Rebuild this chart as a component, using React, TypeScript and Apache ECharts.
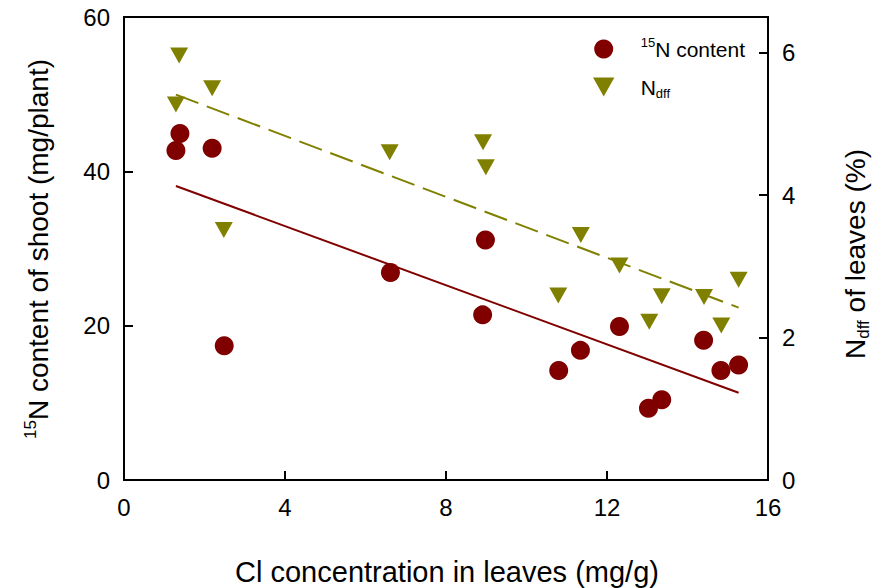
import React, { useEffect, useRef } from "react";
import * as echarts from "echarts";

// Cl concentration in leaves (mg/g) for 15N content points
const clForN15 = [1.29, 1.39, 2.19, 2.49, 6.62, 8.98, 8.91, 10.8, 11.34, 12.31, 13.03, 13.36, 14.4, 14.83, 15.27];
// 15N content of shoot (mg/plant)
const n15Content = [42.7, 44.9, 43.0, 17.4, 26.9, 31.1, 21.4, 14.2, 16.8, 19.9, 9.3, 10.4, 18.1, 14.2, 14.9];
// Cl concentration in leaves (mg/g) for Ndff points
const clForNdff = [1.37, 2.19, 1.29, 6.6, 8.92, 8.99, 2.48, 11.35, 12.31, 10.79, 13.36, 13.05, 14.41, 14.84, 15.27];
// Ndff of leaves (%)
const ndffValues = [5.96, 5.5, 5.27, 4.6, 4.74, 4.39, 3.51, 3.44, 3.01, 2.59, 2.58, 2.22, 2.57, 2.17, 2.81];
// Regression lines (end points)
const fitX = [1.29, 15.27];
const fitN15 = [38.1, 11.3];
const fitNdff = [5.41, 2.42];

const seriesNames = ["15N content", "Ndff"];

const FONT = "'Liberation Sans', Arial, Helvetica, sans-serif";
const RED = "#800000";
const OLIVE = "#808000";
const TRI = "path://M0,0L18,0L9,16Z";

export default function App() {
  const ref = useRef<HTMLDivElement>(null);
  useEffect(() => {
    document.body.style.margin = "0";
    if (!ref.current) return;
    const chart = echarts.init(ref.current, null, { renderer: "svg" });
    const axisLineStyle = { lineStyle: { color: "#000", width: 2 } };
    const tick = { show: true, inside: true, length: 9, lineStyle: { color: "#000", width: 2 } };
    const labelStyle = { color: "#000", fontSize: 24, fontFamily: FONT };
    chart.setOption({
      animation: false,
      grid: {
        left: 124,
        top: 17,
        right: 114,
        bottom: 108,
        show: true,
        borderColor: "#000",
        borderWidth: 2,
        containLabel: false,
      },
      xAxis: {
        type: "value",
        min: 0,
        max: 16,
        interval: 4,
        axisLine: axisLineStyle,
        axisTick: tick,
        axisLabel: { ...labelStyle, margin: 15 },
        splitLine: { show: false },
      },
      yAxis: [
        {
          type: "value",
          min: 0,
          max: 60,
          interval: 20,
          position: "left",
          axisLine: { show: true, ...axisLineStyle },
          axisTick: tick,
          axisLabel: { ...labelStyle, margin: 14 },
          splitLine: { show: false },
        },
        {
          type: "value",
          min: 0,
          max: 6.5,
          interval: 2,
          position: "right",
          axisLine: { show: true, ...axisLineStyle },
          axisTick: tick,
          axisLabel: { ...labelStyle, margin: 14, showMaxLabel: false },
          splitLine: { show: false },
        },
      ],
      legend: {
        data: [
          { name: seriesNames[0], icon: "circle" },
          { name: seriesNames[1], icon: TRI },
        ],
        orient: "vertical",
        left: 593,
        top: 36,
        itemWidth: 64,
        itemHeight: 19,
        itemGap: 17,
        padding: 0,
        selectedMode: false,
        formatter: (n: string) => (n === seriesNames[0] ? "{sup|15}{m|N content}" : "{m|N}{sub|dff}"),
        textStyle: {
          color: "#000",
          fontFamily: FONT,
          fontSize: 21,
          rich: {
            m: { fontSize: 21, fontFamily: FONT, color: "#000", lineHeight: 26 },
            sup: { fontSize: 13, fontFamily: FONT, color: "#000", verticalAlign: "top" },
            sub: { fontSize: 13, fontFamily: FONT, color: "#000", verticalAlign: "bottom" },
          },
        },
      },
      series: [
        {
          name: "fit15N",
          type: "line",
          yAxisIndex: 0,
          data: fitX.map((x, i) => [x, fitN15[i]]),
          symbol: "none",
          lineStyle: { color: RED, width: 2 },
          z: 1,
        },
        {
          name: "fitNdff",
          type: "line",
          yAxisIndex: 1,
          data: fitX.map((x, i) => [x, fitNdff[i]]),
          symbol: "none",
          lineStyle: { color: OLIVE, width: 2, type: [24, 9] },
          z: 1,
        },
        {
          name: seriesNames[0],
          type: "scatter",
          yAxisIndex: 0,
          data: clForN15.map((x, i) => [x, n15Content[i]]),
          symbol: "circle",
          symbolSize: 19,
          itemStyle: { color: RED, opacity: 1 },
          z: 3,
        },
        {
          name: seriesNames[1],
          type: "scatter",
          yAxisIndex: 1,
          data: clForNdff.map((x, i) => [x, ndffValues[i]]),
          symbol: TRI,
          symbolSize: [18, 16],
          itemStyle: { color: OLIVE, opacity: 1 },
          z: 3,
        },
      ],
      graphic: [
        {
          type: "text",
          x: 447,
          y: 572,
          style: {
            text: "Cl concentration in leaves (mg/g)",
            fontSize: 29,
            fontFamily: FONT,
            fill: "#000",
            align: "center",
            verticalAlign: "middle",
          },
        },
        {
          type: "text",
          x: 38,
          y: 249,
          rotation: Math.PI / 2,
          style: {
            text: "{sup|15}{m|N content of shoot (mg/plant)}",
            align: "center",
            verticalAlign: "middle",
            fill: "#000",
            fontFamily: FONT,
            fontSize: 28,
            rich: {
              m: { fontSize: 28, fontFamily: FONT, fill: "#000", lineHeight: 33 },
              sup: { fontSize: 17, fontFamily: FONT, fill: "#000", verticalAlign: "top" },
            },
          },
        },
        {
          type: "text",
          x: 855,
          y: 254,
          rotation: Math.PI / 2,
          style: {
            text: "{m|N}{sub|dff}{m| of leaves (%)}",
            align: "center",
            verticalAlign: "middle",
            fill: "#000",
            fontFamily: FONT,
            fontSize: 28,
            rich: {
              m: { fontSize: 28, fontFamily: FONT, fill: "#000", lineHeight: 33 },
              sub: { fontSize: 17, fontFamily: FONT, fill: "#000", verticalAlign: "bottom" },
            },
          },
        },
      ],
    });
    return () => chart.dispose();
  }, []);
  return <div ref={ref} style={{ width: 882, height: 588 }} />;
}
